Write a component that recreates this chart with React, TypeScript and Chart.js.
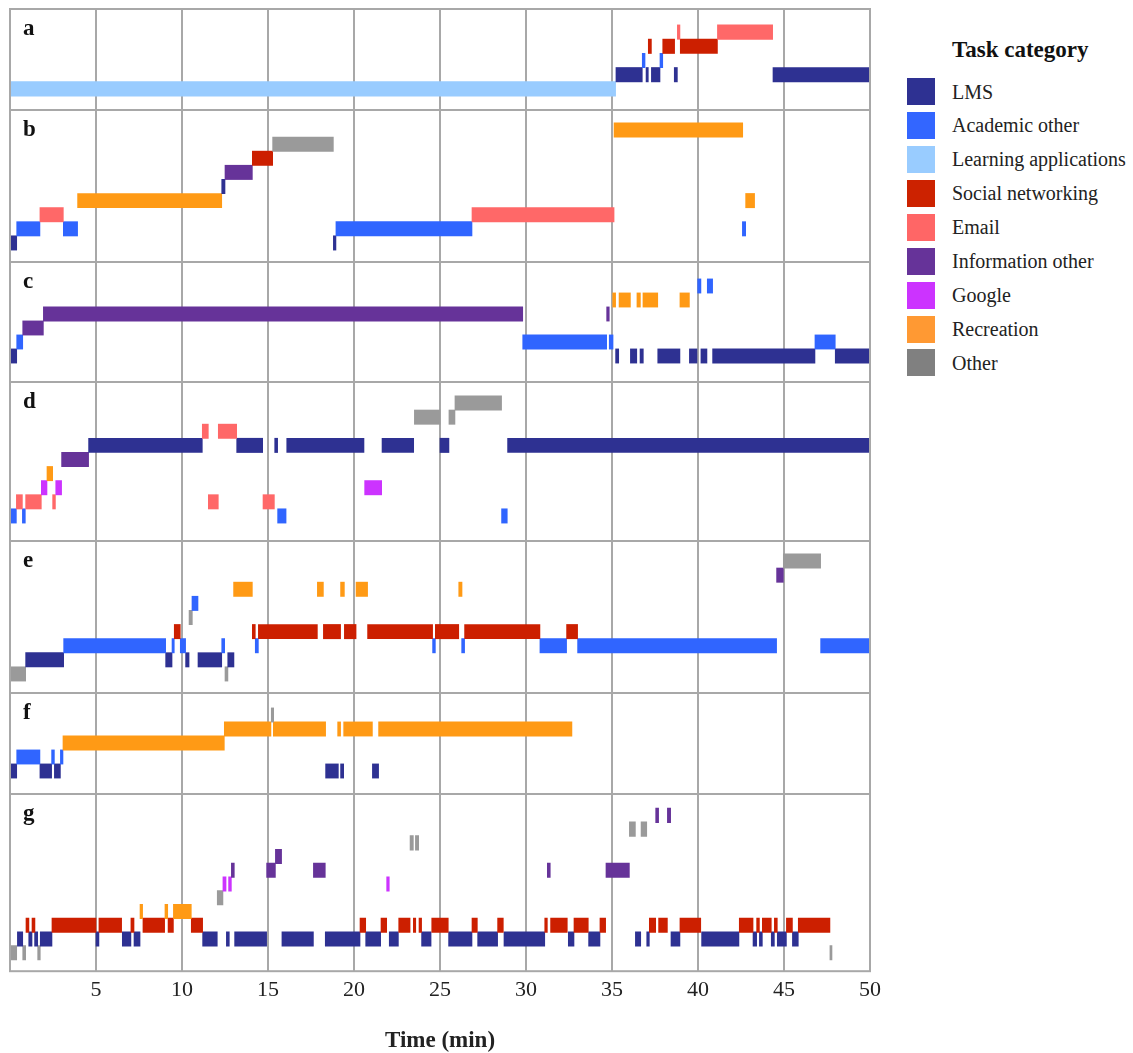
import React, { useEffect, useRef } from 'react';
import { Chart, registerables } from 'chart.js';

Chart.register(...registerables);

// ---------- categories ----------
const CAT_CODES = ['LMS', 'ACA', 'LRN', 'SOC', 'EML', 'INF', 'GGL', 'REC', 'OTH'];
const CAT_LABELS = [
  'LMS',
  'Academic other',
  'Learning applications',
  'Social networking',
  'Email',
  'Information other',
  'Google',
  'Recreation',
  'Other',
];
const BAR_COLORS = ['#2E3192', '#3065FF', '#99CCFF', '#CC1F00', '#FF6868', '#663399', '#CC33FF', '#FF9A15', '#9A9A9A'];
const LEGEND_COLORS = ['#2E3192', '#3366FF', '#99CCFF', '#CC2200', '#FF6666', '#663399', '#CC33FF', '#FF9933', '#808080'];

const LEGEND_TITLE = 'Task category';
const X_TITLE = 'Time (min)';
const X_MIN = 0;
const X_MAX = 50;
const X_STEP = 5;
const PANEL_LETTERS = ['a', 'b', 'c', 'd', 'e', 'f', 'g'];

type Row = { cat: string; segs: [number, number][] };

// rows listed bottom -> top, segments are [start, end] in minutes
const panelA: Row[] = [
  { cat: 'LRN', segs: [[0, 35.21]] },
  { cat: 'LMS', segs: [[35.23, 36.76], [36.98, 37.11], [37.29, 37.79], [38.62, 38.8], [44.36, 50]] },
  { cat: 'ACA', segs: [[36.76, 36.92], [37.79, 37.95]] },
  { cat: 'SOC', segs: [[37.11, 37.29], [37.95, 38.64], [38.97, 41.13]] },
  { cat: 'EML', segs: [[38.8, 38.95], [41.13, 44.34]] },
];

const panelB: Row[] = [
  { cat: 'LMS', segs: [[0, 0.39], [18.8, 18.95]] },
  { cat: 'ACA', segs: [[0.39, 1.74], [3.1, 3.93], [18.95, 26.86], [42.58, 42.77]] },
  { cat: 'EML', segs: [[1.74, 3.1], [26.86, 35.12]] },
  { cat: 'REC', segs: [[3.93, 12.31], [42.77, 43.29]] },
  { cat: 'LMS', segs: [[12.31, 12.5]] },
  { cat: 'INF', segs: [[12.5, 14.09]] },
  { cat: 'SOC', segs: [[14.09, 15.27]] },
  { cat: 'OTH', segs: [[15.27, 18.8]] },
  { cat: 'REC', segs: [[35.12, 42.6]] },
];

const panelC: Row[] = [
  { cat: 'LMS', segs: [[0, 0.39], [35.21, 35.39], [36.07, 36.44], [36.63, 36.82], [37.66, 38.95], [39.5, 39.94], [40.17, 40.52], [40.85, 46.8], [47.98, 50]] },
  { cat: 'ACA', segs: [[0.39, 0.74], [29.81, 34.69], [34.84, 35.06], [46.8, 47.98]] },
  { cat: 'INF', segs: [[0.74, 1.94]] },
  { cat: 'INF', segs: [[1.94, 29.81], [34.69, 34.84]] },
  { cat: 'REC', segs: [[35.04, 35.21], [35.41, 36.07], [36.45, 36.65], [36.8, 37.66], [38.95, 39.5]] },
  { cat: 'ACA', segs: [[39.98, 40.17], [40.54, 40.85]] },
];

const panelD: Row[] = [
  { cat: 'ACA', segs: [[0, 0.37], [0.72, 0.89], [15.56, 16.05], [28.58, 28.91]] },
  { cat: 'EML', segs: [[0.37, 0.72], [0.91, 1.82], [2.48, 2.64], [11.53, 12.11], [14.71, 15.37]] },
  { cat: 'GGL', segs: [[1.82, 2.15], [2.66, 3.0], [20.62, 21.61]] },
  { cat: 'REC', segs: [[2.15, 2.48]] },
  { cat: 'INF', segs: [[3.0, 4.57]] },
  { cat: 'LMS', segs: [[4.57, 11.18], [13.18, 14.69], [15.39, 15.56], [16.09, 20.58], [21.63, 23.47], [25.0, 25.52], [28.93, 50]] },
  { cat: 'EML', segs: [[11.18, 11.53], [12.11, 13.18]] },
  { cat: 'OTH', segs: [[23.51, 25.0], [25.52, 25.87]] },
  { cat: 'OTH', segs: [[25.87, 28.58]] },
];

const panelE: Row[] = [
  { cat: 'OTH', segs: [[0, 0.91], [12.5, 12.67]] },
  { cat: 'LMS', segs: [[0.91, 3.12], [9.05, 9.42], [10.21, 10.41], [10.93, 12.31], [12.66, 13.02]] },
  { cat: 'ACA', segs: [[3.12, 9.05], [9.42, 9.55], [9.9, 10.21], [12.31, 12.48], [14.26, 14.44], [24.57, 24.73], [26.26, 26.43], [30.81, 32.36], [33.0, 44.57], [47.13, 50]] },
  { cat: 'SOC', segs: [[9.55, 9.9], [14.09, 14.26], [14.44, 17.87], [18.22, 19.22], [19.44, 20.12], [20.79, 24.57], [24.73, 26.09], [26.43, 30.81], [32.36, 33.0]] },
  { cat: 'OTH', segs: [[10.41, 10.6]] },
  { cat: 'ACA', segs: [[10.58, 10.93]] },
  { cat: 'REC', segs: [[13.0, 14.09], [17.87, 18.22], [19.22, 19.44], [20.12, 20.79], [26.09, 26.28]] },
  { cat: 'INF', segs: [[44.57, 44.96]] },
  { cat: 'OTH', segs: [[44.96, 47.13]] },
];

const panelF: Row[] = [
  { cat: 'LMS', segs: [[0, 0.39], [1.74, 2.42], [2.58, 2.93], [18.35, 19.09], [19.22, 19.4], [21.07, 21.43]] },
  { cat: 'ACA', segs: [[0.39, 1.74], [2.42, 2.58], [2.93, 3.08]] },
  { cat: 'REC', segs: [[3.08, 12.46]] },
  { cat: 'REC', segs: [[12.46, 15.17], [15.31, 18.35], [19.05, 19.22], [19.4, 21.07], [21.43, 32.67]] },
  { cat: 'OTH', segs: [[15.19, 15.33]] },
];

const panelG: Row[] = [
  { cat: 'OTH', segs: [[0, 0.39], [0.74, 0.91], [1.61, 1.76], [47.67, 47.79]] },
  { cat: 'LMS', segs: [[0.43, 0.74], [1.09, 1.28], [1.43, 1.61], [1.76, 2.44], [5.0, 5.17], [6.53, 7.03], [7.21, 7.56], [11.2, 12.05], [12.58, 12.75], [13.06, 14.92], [15.81, 17.64], [18.33, 20.35], [20.68, 21.55], [22.05, 22.58], [23.93, 24.48], [25.5, 26.86], [27.19, 28.35], [28.72, 31.09], [32.46, 32.79], [33.64, 34.3], [36.36, 36.67], [37.02, 37.17], [38.43, 38.95], [40.21, 42.38], [43.2, 43.41], [43.57, 43.74], [44.26, 44.44], [44.61, 45.14], [45.49, 45.83]] },
  { cat: 'SOC', segs: [[0.93, 1.1], [1.28, 1.45], [2.44, 5.0], [5.17, 6.49], [7.03, 7.21], [7.73, 8.99], [9.19, 9.5], [10.54, 11.2], [20.35, 20.68], [21.57, 21.9], [22.6, 23.26], [23.45, 23.59], [23.78, 23.93], [24.52, 25.48], [26.86, 27.17], [28.35, 28.68], [31.09, 31.24], [31.43, 32.4], [32.79, 33.62], [34.3, 34.63], [37.17, 37.54], [37.71, 38.22], [38.95, 40.16], [42.4, 43.2], [43.41, 43.57], [43.74, 44.26], [44.44, 44.61], [45.14, 45.49], [45.83, 47.67]] },
  { cat: 'REC', segs: [[7.56, 7.71], [9.01, 9.17], [9.5, 10.54]] },
  { cat: 'OTH', segs: [[12.05, 12.38]] },
  { cat: 'GGL', segs: [[12.38, 12.56], [12.71, 12.87], [21.9, 22.05]] },
  { cat: 'INF', segs: [[12.87, 13.04], [14.92, 15.43], [17.64, 18.33], [31.24, 31.41], [34.65, 36.01]] },
  { cat: 'INF', segs: [[15.43, 15.79]] },
  { cat: 'OTH', segs: [[23.26, 23.45], [23.57, 23.76]] },
  { cat: 'OTH', segs: [[36.01, 36.36], [36.69, 37.02]] },
  { cat: 'INF', segs: [[37.54, 37.71], [38.22, 38.41]] },
];

const PANELS = [panelA, panelB, panelC, panelD, panelE, panelF, panelG];

// ---------- layout (pixels) ----------
const FONT = '"Liberation Serif", "Times New Roman", serif';
const GRID_COLOR = '#a8a8a8';
const CANVAS_W = 888;
const PANEL_LAYOUT = [
  { canvasH: 102, padTop: 1, areaH: 101, rowPadB: 14, rowPadT: 16 },
  { canvasH: 152, padTop: 0, areaH: 152, rowPadB: 12, rowPadT: 13 },
  { canvasH: 120, padTop: 0, areaH: 120, rowPadB: 19, rowPadT: 17 },
  { canvasH: 159, padTop: 0, areaH: 159, rowPadB: 18, rowPadT: 14 },
  { canvasH: 152, padTop: 0, areaH: 152, rowPadB: 12, rowPadT: 13 },
  { canvasH: 101, padTop: 0, areaH: 101, rowPadB: 16, rowPadT: 15 },
  { canvasH: 263, padTop: 0, areaH: 183, rowPadB: 12, rowPadT: 15 },
];

const colorOf = (code: string) => BAR_COLORS[Math.max(0, CAT_CODES.indexOf(code))];

const decorPlugin = {
  id: 'panelDecor',
  afterDatasetsDraw(chart: any, _args: any, opts: any) {
    const { ctx, chartArea: a } = chart;
    ctx.save();
    ctx.strokeStyle = GRID_COLOR;
    ctx.lineWidth = 2;
    ctx.strokeRect(a.left, a.top, a.right - a.left, a.bottom - a.top);
    ctx.fillStyle = '#111';
    ctx.font = `bold 23px ${FONT}`;
    ctx.textBaseline = 'alphabetic';
    ctx.textAlign = 'left';
    ctx.fillText(opts.letter || '', a.left + 13, a.top + 26);
    ctx.restore();
  },
};

function Panel({ rows, letter, layout, last }: { rows: Row[]; letter: string; layout: any; last: boolean }) {
  const ref = useRef<HTMLCanvasElement | null>(null);
  useEffect(() => {
    if (!ref.current) return;
    const n = rows.length;
    const pitch = (layout.areaH - layout.rowPadB - layout.rowPadT) / n;
    const yMin = -0.5 - layout.rowPadB / pitch;
    const yMax = n - 0.5 + layout.rowPadT / pitch;
    const data = rows.flatMap((r, i) => r.segs.map(([s, e]) => ({ x: [s, e], y: i, cat: r.cat })));
    const chart = new Chart(ref.current, {
      type: 'bar',
      data: {
        datasets: [
          {
            data: data as any,
            backgroundColor: (c: any) => colorOf(c.raw ? c.raw.cat : 'LMS'),
            borderWidth: 0,
            barThickness: pitch + 0.2,
            grouped: false,
          } as any,
        ],
      },
      options: {
        indexAxis: 'y',
        animation: false,
        responsive: false,
        events: [],
        layout: { autoPadding: false, padding: { left: 6, right: 22, top: layout.padTop, bottom: 0 } },
        plugins: {
          legend: { display: false },
          tooltip: { enabled: false },
          panelDecor: { letter },
        } as any,
        scales: {
          x: {
            type: 'linear',
            min: X_MIN,
            max: X_MAX,
            offset: false,
            grid: { color: GRID_COLOR, lineWidth: 2, drawTicks: false },
            border: { display: false },
            ticks: {
              display: last,
              stepSize: X_STEP,
              padding: 6,
              maxRotation: 0,
              autoSkip: false,
              color: '#222',
              font: { family: FONT, size: 22 },
              callback: (v: any) => (Number(v) === 0 ? '' : String(v)),
            },
            title: {
              display: last,
              text: X_TITLE,
              color: '#222',
              font: { family: FONT, size: 23, weight: 'bold' },
              padding: { top: 17.8, bottom: 2 },
            },
          },
          y: { type: 'linear', display: false, min: yMin, max: yMax, offset: false },
        },
      } as any,
      plugins: [decorPlugin],
    });
    return () => chart.destroy();
  }, [rows, letter, layout, last]);
  return (
    <canvas
      ref={ref}
      width={CANVAS_W}
      height={layout.canvasH}
      style={{ display: 'block', marginLeft: -4 }}
    />
  );
}

export default function App() {
  useEffect(() => {
    document.documentElement.style.overflow = 'hidden';
    document.body.style.overflow = 'hidden';
  }, []);
  const legendTop = 91.7;
  const legendPitch = 33.9;
  return (
    <div style={{ width: 1117 }}>
      {PANELS.map((rows, i) => (
        <Panel key={i} rows={rows} letter={PANEL_LETTERS[i]} layout={PANEL_LAYOUT[i]} last={i === PANELS.length - 1} />
      ))}
      <div
        style={{
          position: 'absolute',
          left: 952,
          top: 35,
          font: `bold 23px ${FONT}`,
          lineHeight: '30px',
          color: '#111',
          whiteSpace: 'nowrap',
        }}
      >
        {LEGEND_TITLE}
      </div>
      {CAT_LABELS.map((label, i) => {
        const cy = legendTop + legendPitch * i;
        return (
          <React.Fragment key={label}>
            <div
              style={{
                position: 'absolute',
                left: 907,
                top: cy - 13.5,
                width: 28,
                height: 27,
                background: LEGEND_COLORS[i],
              }}
            />
            <div
              style={{
                position: 'absolute',
                left: 952,
                top: cy - 14.15,
                font: `20px ${FONT}`,
                lineHeight: '28px',
                color: '#222',
                whiteSpace: 'nowrap',
              }}
            >
              {label}
            </div>
          </React.Fragment>
        );
      })}
    </div>
  );
}
